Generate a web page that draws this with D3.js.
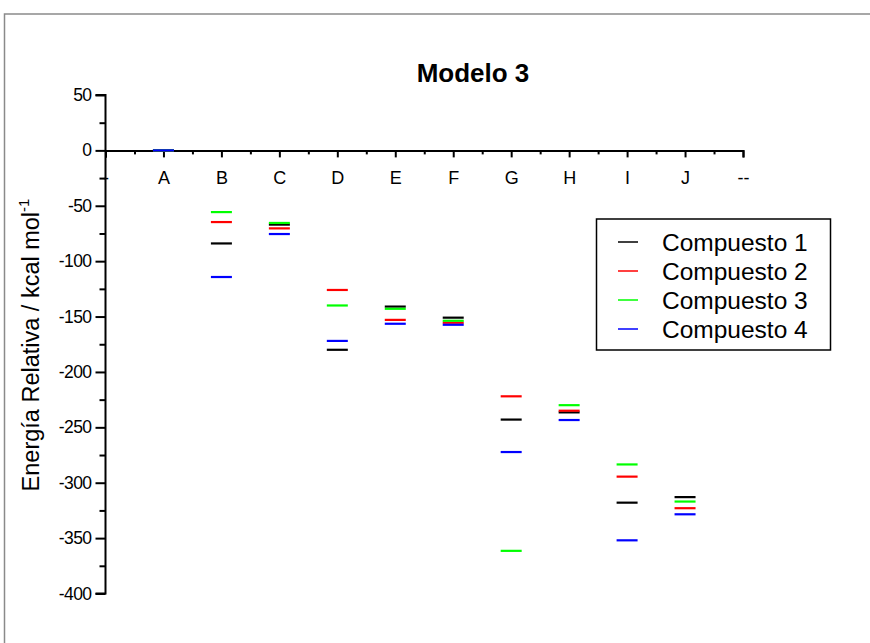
<!DOCTYPE html>
<html lang="es">
<head>
  <meta charset="UTF-8">
  <title>Modelo 3</title>
  <style>
    body {
      margin: 0;
      background: #fff;
      font-family: Arial, 'Liberation Sans', sans-serif;
    }
    svg text {
      font-family: Arial, 'Liberation Sans', sans-serif;
    }
  </style>
</head>
<body>

<script src="https://d3js.org/d3.v7.min.js"></script>
<script>
  // Data
  const categories = ['-', 'A', 'B', 'C', 'D', 'E', 'F', 'G', 'H', 'I', 'J', '--'];
  const seriesNames = ['Compuesto 1', 'Compuesto 2', 'Compuesto 3', 'Compuesto 4'];
  const seriesColors = ['#000000', '#ff0000', '#00ff00', '#0000ff'];

  // values for A..J
  const compuesto1 = [0, -84, -67, -180, -141, -151, -243, -236.5, -318, -313];
  const compuesto2 = [0, -64.7, -70.4, -126, -153, -155.6, -222, -235, -294.5, -323];
  const compuesto3 = [0, -55.7, -65.5, -140, -143, -153.8, -361.5, -230, -283.5, -317];
  const compuesto4 = [0, -114.3, -75.5, -172, -156.5, -157.4, -272.3, -243.4, -352, -328.5];

  const yMajorTicks = [50, 0, -50, -100, -150, -200, -250, -300, -350, -400];
  const yMinorTicks = [25, -25, -75, -125, -175, -225, -275, -325, -375];

  const series = [compuesto1, compuesto2, compuesto3, compuesto4];

  const width = 870;
  const height = 643;

  const svg = d3.select('body')
    .append('svg')
    .attr('width', width)
    .attr('height', height);

  // outer frame
  svg.append('rect')
    .attr('x', 4.5)
    .attr('y', 14)
    .attr('width', width + 10)
    .attr('height', height)
    .attr('fill', 'none')
    .attr('stroke', '#8a8a8a')
    .attr('stroke-width', 1.5);

  // Scales
  const xScale = d3.scaleLinear()
    .domain([0, categories.length - 1])
    .range([105.5, 743]);

  const yScale = d3.scaleLinear()
    .domain([50, -400])
    .range([95, 593.5]);

  const fmt = d => String(d);

  // y axis, major + minor
  const yAxis = svg.append('g')
    .attr('transform', 'translate(' + xScale(0) + ',0)')
    .call(d3.axisLeft(yScale)
      .tickValues(yMajorTicks)
      .tickSize(10)
      .tickPadding(4)
      .tickFormat(fmt));

  svg.append('g')
    .attr('transform', 'translate(' + xScale(0) + ',0)')
    .call(d3.axisLeft(yScale)
      .tickValues(yMinorTicks)
      .tickSize(6)
      .tickFormat(''))
    .call(g => g.select('.domain').remove());

  // x axis sits on y = 0
  const xAxis = svg.append('g')
    .attr('transform', 'translate(0,' + yScale(0) + ')')
    .call(d3.axisBottom(xScale)
      .tickValues(d3.range(categories.length))
      .tickSize(7)
      .tickPadding(14)
      .tickFormat(i => categories[i]));

  svg.append('g')
    .attr('transform', 'translate(0,' + yScale(0) + ')')
    .call(d3.axisBottom(xScale)
      .tickValues(d3.range(categories.length - 1).map(i => i + 0.5))
      .tickSize(4)
      .tickFormat(''))
    .call(g => g.select('.domain').remove());

  svg.selectAll('.domain')
    .attr('stroke', '#000')
    .attr('stroke-width', 2);
  svg.selectAll('.tick line')
    .attr('stroke', '#000')
    .attr('stroke-width', 2);
  svg.selectAll('.tick text')
    .attr('fill', '#000')
    .attr('font-size', 18);
  yAxis.selectAll('.tick text')
    .attr('font-size', 17.5)
    .attr('letter-spacing', -0.6);

  // y domain should not overshoot the end ticks
  yAxis.select('.domain')
    .attr('d', 'M-10,' + yScale(50) + 'H0V' + yScale(-400) + 'H-10');

  // level markers
  const half = 10.5;
  series.forEach(function(values, s) {
    svg.append('g')
      .selectAll('line')
      .data(values)
      .enter()
      .append('line')
      .attr('x1', (d, i) => xScale(i + 1) - half)
      .attr('x2', (d, i) => xScale(i + 1) + half)
      .attr('y1', d => yScale(d))
      .attr('y2', d => yScale(d))
      .attr('stroke', seriesColors[s])
      .attr('stroke-width', 2.2);
  });

  // title
  svg.append('text')
    .attr('x', 473)
    .attr('y', 82)
    .attr('text-anchor', 'middle')
    .attr('font-size', 26)
    .attr('font-weight', 'bold')
    .text('Modelo 3');

  // y axis title
  const yTitle = svg.append('text')
    .attr('transform', 'translate(39,' + 345 + ') rotate(-90)')
    .attr('text-anchor', 'middle')
    .attr('font-size', 23.5);
  yTitle.append('tspan').text('Energía Relativa / kcal mol');
  yTitle.append('tspan')
    .attr('font-size', 15)
    .attr('dy', -10)
    .text('-1');

  // legend
  const legend = svg.append('g');
  legend.append('rect')
    .attr('x', 596.5)
    .attr('y', 219)
    .attr('width', 234)
    .attr('height', 131)
    .attr('fill', '#fff')
    .attr('stroke', '#000')
    .attr('stroke-width', 1.5);

  const rows = legend.selectAll('.row')
    .data(seriesNames)
    .enter()
    .append('g')
    .attr('class', 'row')
    .attr('transform', (d, i) => 'translate(0,' + (242 + i * 29) + ')');

  rows.append('line')
    .attr('x1', 618)
    .attr('x2', 638)
    .attr('stroke', (d, i) => seriesColors[i])
    .attr('stroke-width', 1.5);

  rows.append('text')
    .attr('x', 662)
    .attr('y', 8.5)
    .attr('font-size', 24.5)
    .text(d => d);
</script>

</body>
</html>
